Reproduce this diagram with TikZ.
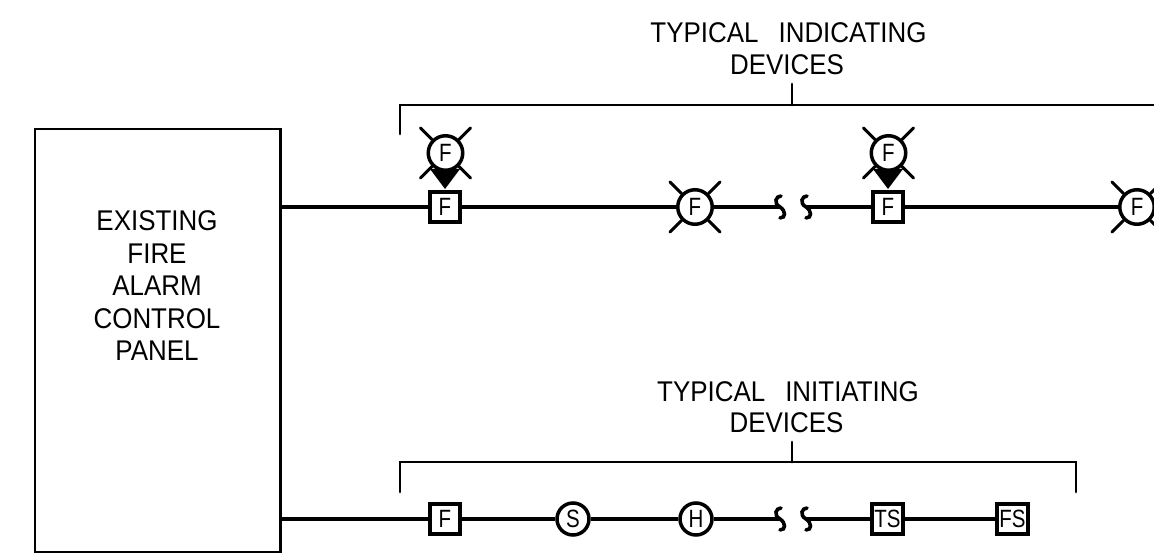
\documentclass[tikz,border=0pt]{standalone}
\usepackage{fontspec}
\usepackage{graphicx}
\usetikzlibrary{calc}
\setmainfont{Liberation Sans}
\newcommand{\cad}[1]{\scalebox{.91}[1]{\fontsize{28.5}{28.5}\selectfont #1}}
\newcommand{\sym}[1]{\scalebox{.82}[1]{\fontsize{25}{25}\selectfont #1}}
\newcommand{\gap}{\hspace{22pt}}
\tikzset{
 wire/.style={line width=3.8pt},
 thin wire/.style={line width=2.7pt,line cap=round},
 box/.style={draw,fill=white,line width=4pt,minimum size=30.5pt,inner sep=0pt},
 dev/.style={draw,fill=white,circle,line width=3.5pt,minimum size=34.5pt,inner sep=0pt},
 small dev/.style={dev,minimum size=32pt},
 label/.style={inner sep=0pt,anchor=center},
 ray/.style={line width=2.9pt,line cap=round},
 kink/.style={line width=3.6pt,line cap=round}
}
\newcommand{\brk}[1]{\begin{scope}[shift={(#1)}]\draw[kink] (1,-11) .. controls (-4,-11) and (-7,-4) .. (0,0) .. controls (6,4) and (6,11) .. (0,11);\end{scope}}
\newcommand{\rays}[1]{\foreach \a in {45,135,225,315} \draw[ray] (#1.\a) -- ++(\a:16.5pt);}
\begin{document}
\begin{tikzpicture}[x=1pt,y=-1pt]
\useasboundingbox (0,0) rectangle (1154,553);
\clip (0,0) rectangle (1154,553);
\node[draw,line width=2.5pt,minimum width=245.5pt,minimum height=423pt,inner sep=0pt] (panel) at (157.7,340.5) {};
\foreach \t/\y/\n in {EXISTING/221/a,FIRE/253.5/b,ALARM/286/c,CONTROL/318.5/d,PANEL/351/e}
  \node[label] (p\n) at (157,\y) {\cad{\t}};
\node[label] (t1) at (788.5,32.5) {\cad{TYPICAL\gap INDICATING}};
\node[label] (t2) at (787,64.5) {\cad{DEVICES}};
\node[label] (t3) at (788,392) {\cad{TYPICAL\gap INITIATING}};
\node[label] (t4) at (786.5,423) {\cad{DEVICES}};
\coordinate (bt) at (792,105);
\coordinate (btl) at (400,105);
\coordinate (btr) at (1154,105);
\coordinate (btt) at (400,134);
\coordinate (bta) at (792,84);
\draw[thin wire] (btt) -- (btl) -- (btr);
\draw[thin wire] (bta) -- (bt);
\coordinate (bb) at (792,462);
\coordinate (bbl) at (400,462);
\coordinate (bbr) at (1076,462);
\coordinate (bbtl) at (400,492);
\coordinate (bbtr) at (1076,492);
\coordinate (bba) at (792,442);
\draw[thin wire] (bbtl) -- (bbl) -- (bbr) -- (bbtr);
\draw[thin wire] (bba) -- (bb);
\coordinate (k1) at (780,207); \coordinate (k2) at (806,207);
\coordinate (k3) at (780,519); \coordinate (k4) at (806,519);
\node[box] (f1) at (445,207) {\sym{F}};
\node[dev] (c1) at (695,207) {\sym{F}};
\node[box] (f2) at (888,207) {\sym{F}};
\node[dev] (c2) at (1137,207) {\sym{F}};
\foreach \x in {445,888}
 \fill (\x-15,169) -- (\x+15,169) -- (\x,189) -- cycle;
\node[dev] (u1) at (445.5,153) {\sym{F}};
\node[dev] (u2) at (888.5,153) {\sym{F}};
\draw[wire] (panel.east |- f1) -- (f1);
\draw[wire] (f1) -- (c1);
\draw[wire] (c1) -- (k1);
\draw[wire] (k2) -- (f2);
\draw[wire] (f2) -- (c2);
\rays{c1}\rays{c2}\rays{u1}\rays{u2}
\brk{k1}\brk{k2}
\node[box] (g1) at (445,519) {\sym{F}};
\node[small dev] (g2) at (573,519) {\sym{S}};
\node[small dev] (g3) at (696,519) {\sym{H}};
\node[box] (g4) at (887.5,519) {\sym{TS}};
\node[box] (g5) at (1012.5,519) {\sym{FS}};
\draw[wire] (panel.east |- g1) -- (g1);
\draw[wire] (g1) -- (g2);
\draw[wire] (g2) -- (g3);
\draw[wire] (g3) -- (k3);
\draw[wire] (k4) -- (g4);
\draw[wire] (g4) -- (g5);
\brk{k3}\brk{k4}
\end{tikzpicture}
\end{document}
